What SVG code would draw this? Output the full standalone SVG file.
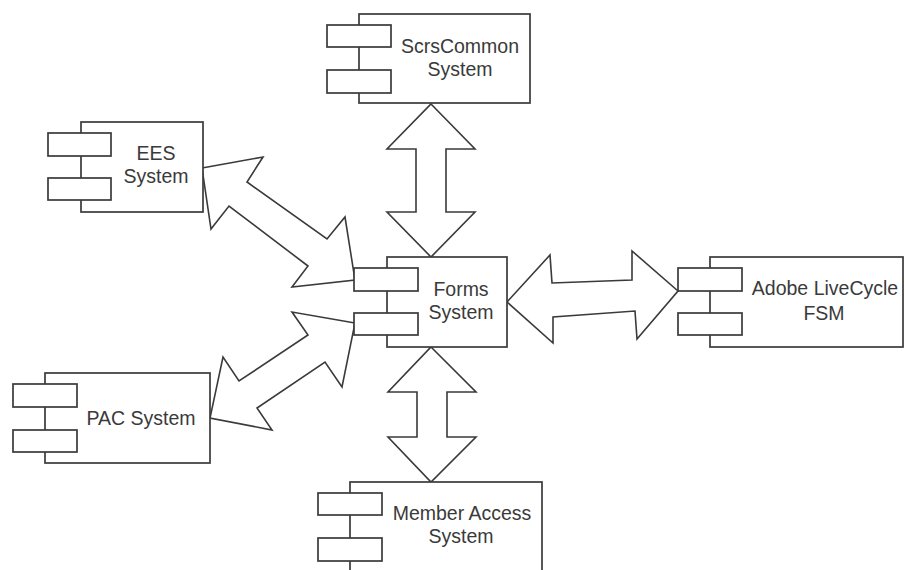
<svg xmlns="http://www.w3.org/2000/svg" width="905" height="570" viewBox="0 0 905 570">
<style>
.body{fill:#fff;stroke:#3a3a3a;stroke-width:1.7}
.port{fill:#fff;stroke:#3a3a3a;stroke-width:1.7}
.arrow{fill:#fff;stroke:#3a3a3a;stroke-width:1.6;stroke-linejoin:miter}
text{font-family:"Liberation Sans",Arial,sans-serif;font-size:19.5px;fill:#3a3a3a;text-anchor:middle}
</style>
<rect width="905" height="570" fill="#fff"/>
<g id="connectors">
<polygon class="arrow" points="431,104 475,149 446,149 446,212 475,212 431,257 387,212 416,212 416,149 387,149"/>
<polygon class="arrow" points="431,347 476,392 447,392 447,437 476,437 431,482 388,437 417,437 417,392 388,392"/>
<polygon class="arrow" points="507,302 550,255 552,283 632,280 632,251 678,291 637,339 635,311 553,317 553,343"/>
<polygon class="arrow" points="202,168 263,157 247,182 327,239 345,217 355,280 292,287 308,266 229,206 211,229"/>
<polygon class="arrow" points="355,323 292,312 308,335 239,381 223,357 210,418 272,430 257,408 325,362 342,387"/>
</g>
<g id="scrscommon">
<rect class="body" x="359" y="14" width="171" height="89"/>
<rect class="port" x="327" y="25" width="64" height="22"/>
<rect class="port" x="327" y="70" width="64" height="23"/>
<text x="460" y="53">ScrsCommon</text>
<text x="460" y="76">System</text>
</g>
<g id="ees">
<rect class="body" x="81" y="122" width="122" height="90"/>
<rect class="port" x="48" y="133" width="63" height="23"/>
<rect class="port" x="48" y="178" width="63" height="22"/>
<text x="156" y="160">EES</text>
<text x="156" y="183">System</text>
</g>
<g id="forms">
<rect class="body" x="387" y="257" width="120" height="90"/>
<rect class="port" x="354" y="268" width="64" height="23"/>
<rect class="port" x="354" y="313" width="64" height="22"/>
<text x="461" y="296">Forms</text>
<text x="461" y="319">System</text>
</g>
<g id="adobe">
<rect class="body" x="710" y="257" width="193" height="90"/>
<rect class="port" x="678" y="268" width="64" height="23"/>
<rect class="port" x="678" y="313" width="64" height="22"/>
<text x="825" y="295">Adobe LiveCycle</text>
<text x="824" y="320">FSM</text>
</g>
<g id="pac">
<rect class="body" x="45" y="373" width="165" height="90"/>
<rect class="port" x="13" y="384" width="64" height="23"/>
<rect class="port" x="13" y="430" width="64" height="22"/>
<text x="141" y="425">PAC System</text>
</g>
<g id="member">
<rect class="body" x="350" y="482" width="192" height="100"/>
<rect class="port" x="318" y="493" width="64" height="22"/>
<rect class="port" x="318" y="538" width="64" height="23"/>
<text x="462" y="520">Member Access</text>
<text x="461" y="543">System</text>
</g>
</svg>
